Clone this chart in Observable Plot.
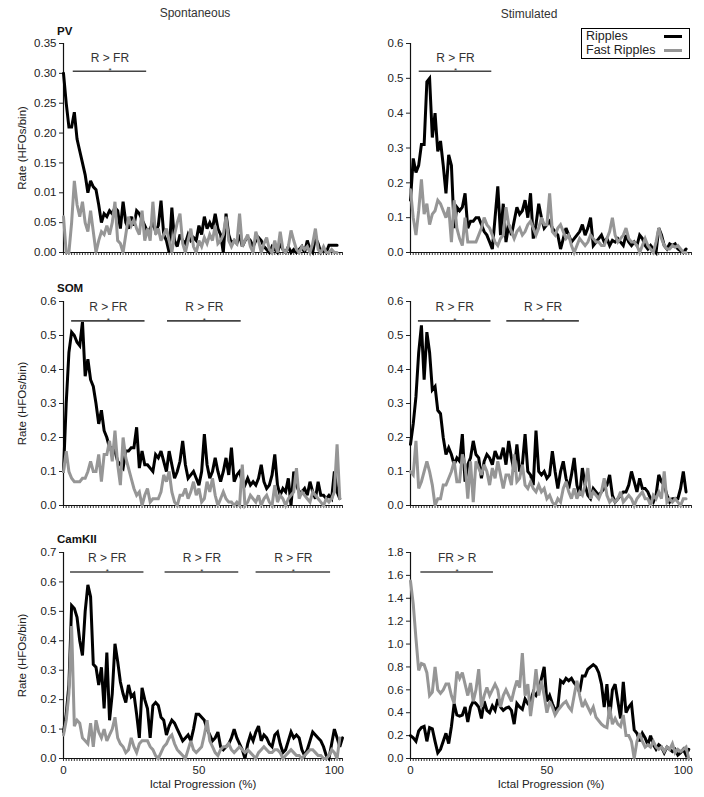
<!DOCTYPE html>
<html><head><meta charset="utf-8">
<script src="https://cdn.jsdelivr.net/npm/d3@7"></script>
<script src="https://cdn.jsdelivr.net/npm/@observablehq/plot@0.6"></script>
<style>
body{margin:0;background:#fff;font-family:"Liberation Sans",Arial,sans-serif;}
#wrap{position:relative;width:704px;height:797px;overflow:hidden;}
.abs{position:absolute;}
.ttl{font-size:12px;color:#333;transform:translate(-50%,-50%);white-space:nowrap;}
.plab{font-size:11.5px;font-weight:bold;color:#111;transform:translateY(-50%);}
</style></head>
<body><div id="wrap"></div>
<script>
// ---- data (x = ictal progression %, one value per 1% bin) ----
const columns = ["Spontaneous", "Stimulated"];
const rowsLabels = ["PV", "SOM", "CamKII"];
const legendLabels = ["Ripples", "Fast Ripples"];

const pvSpontR = [0.30,0.25,0.21,0.21,0.235,0.19,0.17,0.15,0.13,0.10,
0.12,0.11,0.105,0.08,0.05,0.065,0.06,0.07,0.065,0.075,
0.07,0.04,0.085,0.05,0.04,0.06,0.045,0.07,0.065,0.055,
0.045,0.035,0.04,0.05,0.035,0.045,0.087,0.03,0.02,0.0,
0.075,0.02,0.01,0.03,0.02,0.015,0.03,0.02,0.025,0.02,
0.045,0.03,0.06,0.04,0.05,0.04,0.065,0.04,0.03,0.0,
0.065,0.03,0.015,0.02,0.015,0.03,0.01,0.02,0.025,0.02,
0.01,0.02,0.025,0.02,0.01,0.005,0.0,0.01,0.005,0.0,
0.015,0.005,0.0,0.01,0.0,0.005,0.0,0.005,0.01,0.0,
0.02,0.005,0.0,0.025,0.015,0.0,0.005,0.0,0.012,0.012,0.012,0.012];
const pvSpontFR = [0.06,0.0,0.0,0.05,0.12,0.08,0.06,0.085,0.05,0.035,
0.07,0.035,0.0,0.02,0.035,0.03,0.045,0.03,0.05,0.085,
0.02,0.015,0.0,0.03,0.06,0.045,0.055,0.04,0.03,0.07,
0.02,0.04,0.02,0.085,0.03,0.04,0.02,0.03,0.04,0.02,
0.0,0.03,0.05,0.065,0.015,0.0,0.02,0.04,0.01,0.0,
0.02,0.01,0.025,0.015,0.03,0.02,0.045,0.015,0.02,0.03,
0.06,0.02,0.01,0.02,0.015,0.065,0.01,0.02,0.03,0.01,
0.0,0.035,0.02,0.0,0.015,0.025,0.005,0.0,0.02,0.0,
0.035,0.005,0.0,0.01,0.037,0.02,0.005,0.0,0.01,0.005,
0.01,0.0,0.015,0.04,0.005,0.0,0.01,0.0,0.0,0.005,0.0,0.0];
const pvStimR = [0.15,0.27,0.23,0.25,0.31,0.31,0.49,0.50,0.33,0.40,
0.29,0.32,0.25,0.17,0.28,0.25,0.07,0.13,0.12,0.13,
0.17,0.07,0.09,0.09,0.10,0.10,0.08,0.06,0.05,0.03,
0.01,0.10,0.19,0.05,0.14,0.03,0.08,0.05,0.09,0.13,
0.11,0.12,0.15,0.10,0.17,0.04,0.08,0.14,0.10,0.07,
0.08,0.09,0.07,0.06,0.05,0.01,0.04,0.07,0.05,0.03,
0.04,0.05,0.06,0.08,0.05,0.07,0.10,0.02,0.03,0.04,
0.05,0.03,0.04,0.02,0.035,0.03,0.04,0.03,0.02,0.05,
0.03,0.02,0.03,0.02,0.05,0.04,0.02,0.01,0.02,0.01,
0.0,0.07,0.05,0.02,0.01,0.025,0.02,0.025,0.01,0.005,0.0,0.01];
const pvStimFR = [0.18,0.10,0.05,0.12,0.21,0.11,0.14,0.08,0.11,0.12,
0.15,0.14,0.12,0.10,0.13,0.03,0.15,0.07,0.04,0.02,
0.10,0.03,0.03,0.03,0.03,0.05,0.07,0.10,0.08,0.07,
0.05,0.03,0.02,0.04,0.05,0.13,0.08,0.06,0.04,0.06,
0.07,0.05,0.06,0.08,0.09,0.07,0.05,0.07,0.10,0.08,
0.08,0.17,0.06,0.05,0.07,0.08,0.06,0.04,0.05,0.02,
0.0,0.02,0.04,0.03,0.02,0.03,0.05,0.04,0.03,0.03,
0.02,0.02,0.04,0.06,0.10,0.05,0.03,0.04,0.05,0.07,
0.04,0.03,0.03,0.02,0.0,0.02,0.04,0.02,0.01,0.0,
0.03,0.07,0.04,0.02,0.01,0.01,0.02,0.015,0.02,0.01,0.0,0.0];
const somSpontR = [0.10,0.30,0.45,0.51,0.50,0.48,0.47,0.54,0.38,0.43,
0.37,0.35,0.30,0.24,0.28,0.22,0.20,0.17,0.17,0.16,
0.13,0.12,0.11,0.16,0.16,0.17,0.17,0.23,0.11,0.16,
0.12,0.12,0.11,0.10,0.15,0.14,0.16,0.13,0.10,0.16,
0.12,0.08,0.10,0.13,0.19,0.12,0.08,0.09,0.10,0.08,
0.06,0.10,0.21,0.12,0.08,0.10,0.14,0.10,0.07,0.10,
0.14,0.09,0.17,0.07,0.09,0.10,0.07,0.06,0.08,0.06,
0.07,0.06,0.08,0.12,0.07,0.05,0.06,0.09,0.15,0.06,
0.03,0.05,0.04,0.08,0.0,0.10,0.06,0.04,0.04,0.05,
0.03,0.07,0.04,0.02,0.07,0.03,0.03,0.02,0.03,0.02,0.10,0.04,0.02];
const somSpontFR = [0.10,0.16,0.10,0.08,0.07,0.07,0.07,0.08,0.08,0.10,
0.13,0.10,0.10,0.15,0.07,0.15,0.15,0.19,0.13,0.22,
0.12,0.06,0.20,0.14,0.11,0.08,0.05,0.03,0.04,0.0,
0.03,0.05,0.01,0.02,0.02,0.02,0.04,0.09,0.07,0.10,
0.04,0.01,0.0,0.03,0.03,0.05,0.02,0.04,0.07,0.03,
0.05,0.01,0.02,0.07,0.04,0.08,0.03,0.0,0.02,0.04,
0.02,0.01,0.01,0.0,0.01,0.0,0.12,0.0,0.01,0.03,
0.02,0.01,0.03,0.0,0.02,0.03,0.01,0.0,0.06,0.01,
0.03,0.02,0.0,0.02,0.03,0.04,0.11,0.02,0.04,0.03,
0.02,0.01,0.04,0.03,0.02,0.01,0.0,0.02,0.01,0.02,0.04,0.18,0.02];
const somStimR = [0.18,0.24,0.32,0.45,0.53,0.37,0.51,0.45,0.34,0.35,
0.28,0.27,0.20,0.15,0.17,0.15,0.12,0.14,0.13,0.21,
0.07,0.12,0.14,0.19,0.15,0.14,0.08,0.13,0.15,0.14,
0.12,0.16,0.14,0.14,0.17,0.12,0.19,0.14,0.10,0.18,
0.10,0.12,0.21,0.10,0.09,0.06,0.22,0.10,0.09,0.10,
0.08,0.09,0.16,0.10,0.05,0.10,0.13,0.08,0.05,0.09,
0.14,0.06,0.03,0.11,0.06,0.03,0.02,0.05,0.04,0.03,
0.04,0.05,0.06,0.09,0.03,0.01,0.02,0.03,0.04,0.04,
0.06,0.10,0.07,0.04,0.08,0.05,0.05,0.04,0.02,0.01,
0.03,0.09,0.07,0.06,0.03,0.01,0.02,0.02,0.02,0.05,0.10,0.04];
const somStimFR = [0.10,0.09,0.19,0.05,0.07,0.10,0.13,0.10,0.06,0.0,
0.02,0.02,0.06,0.06,0.08,0.10,0.13,0.07,0.07,0.15,
0.12,0.02,0.13,0.01,0.13,0.11,0.09,0.12,0.10,0.06,
0.11,0.08,0.13,0.09,0.05,0.09,0.09,0.06,0.15,0.07,
0.08,0.12,0.06,0.05,0.07,0.05,0.04,0.06,0.04,0.05,
0.02,0.03,0.01,0.0,0.02,0.01,0.05,0.07,0.04,0.02,
0.05,0.02,0.04,0.03,0.06,0.11,0.02,0.04,0.03,0.02,
0.04,0.08,0.03,0.01,0.02,0.01,0.02,0.04,0.01,0.02,
0.03,0.02,0.0,0.02,0.03,0.04,0.02,0.02,0.0,0.03,
0.02,0.04,0.02,0.10,0.01,0.02,0.01,0.02,0.01,0.0,0.02,0.02];
const camSpontR = [0.09,0.15,0.25,0.52,0.51,0.48,0.40,0.35,0.50,0.59,
0.55,0.32,0.31,0.25,0.31,0.17,0.36,0.13,0.22,0.39,
0.33,0.26,0.22,0.19,0.25,0.21,0.22,0.15,0.07,0.24,
0.20,0.17,0.07,0.18,0.19,0.18,0.14,0.13,0.08,0.11,
0.13,0.12,0.10,0.08,0.06,0.07,0.08,0.06,0.10,0.15,
0.15,0.14,0.13,0.10,0.08,0.06,0.07,0.09,0.04,0.03,
0.04,0.05,0.07,0.10,0.07,0.05,0.03,0.0,0.05,0.08,
0.06,0.09,0.11,0.06,0.08,0.07,0.05,0.04,0.08,0.09,
0.05,0.02,0.03,0.06,0.09,0.07,0.08,0.07,0.03,0.01,
0.03,0.06,0.09,0.08,0.07,0.06,0.04,0.01,0.0,0.05,0.10,0.07,0.04,0.07];
const camSpontFR = [0.08,0.13,0.22,0.45,0.11,0.13,0.12,0.07,0.06,0.05,
0.12,0.04,0.13,0.09,0.07,0.10,0.06,0.08,0.10,0.14,
0.07,0.05,0.04,0.02,0.03,0.07,0.04,0.02,0.05,0.06,
0.06,0.06,0.04,0.03,0.01,0.0,0.02,0.04,0.05,0.07,
0.08,0.05,0.03,0.02,0.01,0.0,0.03,0.06,0.03,0.02,
0.03,0.04,0.08,0.13,0.06,0.04,0.02,0.01,0.03,0.04,
0.04,0.05,0.03,0.02,0.03,0.04,0.03,0.02,0.03,0.02,
0.01,0.0,0.02,0.03,0.04,0.03,0.02,0.02,0.03,0.03,
0.02,0.0,0.01,0.02,0.03,0.02,0.01,0.01,0.0,0.01,
0.02,0.03,0.03,0.02,0.01,0.01,0.0,0.0,0.01,0.03,0.02,0.0,0.07];
const camStimR = [0.20,0.18,0.15,0.24,0.27,0.28,0.15,0.27,0.26,0.15,
0.05,0.08,0.15,0.22,0.13,0.28,0.48,0.38,0.37,0.38,
0.45,0.32,0.45,0.50,0.48,0.45,0.35,0.50,0.42,0.40,
0.46,0.42,0.52,0.45,0.42,0.44,0.45,0.42,0.30,0.48,
0.45,0.43,0.52,0.48,0.50,0.58,0.55,0.60,0.70,0.80,
0.50,0.55,0.48,0.42,0.45,0.68,0.66,0.70,0.68,0.70,
0.66,0.63,0.58,0.72,0.72,0.78,0.80,0.82,0.80,0.75,
0.65,0.45,0.65,0.35,0.60,0.65,0.50,0.35,0.67,0.40,
0.45,0.48,0.25,0.22,0.15,0.22,0.18,0.12,0.20,0.12,
0.08,0.12,0.10,0.05,0.10,0.08,0.06,0.08,0.03,0.05,0.08,0.03,0.08];
const camStimFR = [1.55,1.35,1.05,0.77,0.83,0.82,0.75,0.55,0.58,0.80,
0.60,0.57,0.60,0.65,0.65,0.55,0.48,0.76,0.70,0.75,
0.65,0.55,0.66,0.50,0.60,0.78,0.45,0.55,0.62,0.55,
0.60,0.65,0.60,0.45,0.55,0.60,0.55,0.50,0.60,0.68,
0.62,0.92,0.55,0.65,0.37,0.55,0.78,0.55,0.68,0.55,
0.40,0.50,0.45,0.38,0.42,0.45,0.48,0.50,0.45,0.42,
0.55,0.68,0.55,0.45,0.50,0.45,0.40,0.45,0.36,0.33,
0.30,0.28,0.27,0.45,0.30,0.35,0.30,0.28,0.38,0.20,
0.20,0.15,0.0,0.15,0.22,0.15,0.10,0.12,0.10,0.15,
0.10,0.08,0.10,0.06,0.10,0.08,0.13,0.05,0.08,0.06,0.08,0.10,0.0];

// y-axis ticks and their printed labels
const pvSpontTicks = [0,0.05,0.10,0.15,0.20,0.25,0.30,0.35];
const pvSpontTickLabels = ["0.00","0.05","0.01","0.15","0.20","0.25","0.30","0.35"];
const ticks06 = [0,0.1,0.2,0.3,0.4,0.5,0.6];
const ticks07 = [0,0.1,0.2,0.3,0.4,0.5,0.6,0.7];
const ticks18 = [0,0.2,0.4,0.6,0.8,1.0,1.2,1.4,1.6,1.8];
const xTickLabels = [0, 50, 100];

// significance bars: [start %, end %, label]
const sigPVSpont = [[3.6, 30.7, "R > FR"]];
const sigPVStim = [[3.2, 29.8, "R > FR"]];
const sigSOMSpont = [[3.0, 30.1, "R > FR"], [38.4, 65.6, "R > FR"]];
const sigSOMStim = [[2.9, 29.5, "R > FR"], [35.3, 61.9, "R > FR"]];
const sigCamSpont = [[2.6, 29.7, "R > FR"], [37.5, 64.7, "R > FR"], [71.1, 98.6, "R > FR"]];
const sigCamStim = [[3.8, 30.4, "FR > R"]];

// ---- layout ----
const wrap = document.getElementById("wrap");
const rowsGeom = [
  {top: 0, height: 262, mt: 43, mb: 10, sigFrac: 0.867},
  {top: 262, height: 258, mt: 39, mb: 15, sigFrac: 0.905},
  {top: 520, height: 277, mt: 32, mb: 39, sigFrac: 0.905}
];
const colsGeom = [
  {left: 0, width: 352, ml: 63, mr: 10},
  {left: 352, width: 352, ml: 58, mr: 13}
];
const panels = [
  {r:0,c:0,R:pvSpontR,FR:pvSpontFR,ymax:0.35,ticks:pvSpontTicks,labels:pvSpontTickLabels,sig:sigPVSpont},
  {r:0,c:1,R:pvStimR,FR:pvStimFR,ymax:0.6,ticks:ticks06,fmt:".1f",sig:sigPVStim},
  {r:1,c:0,R:somSpontR,FR:somSpontFR,ymax:0.6,ticks:ticks06,fmt:".1f",sig:sigSOMSpont},
  {r:1,c:1,R:somStimR,FR:somStimFR,ymax:0.6,ticks:ticks06,fmt:".1f",sig:sigSOMStim},
  {r:2,c:0,R:camSpontR,FR:camSpontFR,ymax:0.7,ticks:ticks07,fmt:".1f",sig:sigCamSpont},
  {r:2,c:1,R:camStimR,FR:camStimFR,ymax:1.8,ticks:ticks18,fmt:".1f",sig:sigCamStim}
];
const GRAY = "#969696";
const xMinor = d3.range(0, 104, 1);

for (const p of panels) {
  const rg = rowsGeom[p.r], cg = colsGeom[p.c];
  const ymax = p.ymax;
  const sigY = rg.sigFrac * ymax;
  const tf = p.labels ? (d => p.labels[p.ticks.indexOf(d)]) : d3.format(p.fmt);
  const sigData = p.sig.map(([a, b, l]) => ({a, b, l, m: (a + b) / 2}));
  const marks = [
    Plot.axisY({ticks: p.ticks, tickFormat: tf, tickSize: 4, tickPadding: 3,
      label: p.c === 0 ? "Rate (HFOs/bin)" : null, labelAnchor: "center", labelArrow: "none", labelOffset: 46,
      fontSize: 11.5, color: "#222"}),
    Plot.axisX({ticks: xMinor, tickSize: 3, tickFormat: () => "", label: null, strokeWidth: 0.8}),
    Plot.ruleX([0], {stroke: "#111", strokeWidth: 1.2}),
    Plot.ruleY([0], {stroke: "#111", strokeWidth: 1.2}),
    Plot.lineY(p.R, {stroke: "#000", strokeWidth: 3, strokeLinejoin: "miter", strokeMiterlimit: 3}),
    Plot.lineY(p.FR, {stroke: GRAY, strokeWidth: 3, strokeLinejoin: "miter", strokeMiterlimit: 3}),
    Plot.ruleY(sigData, {x1: "a", x2: "b", y: () => sigY, stroke: "#444", strokeWidth: 1.6}),
    Plot.text(sigData, {x: "m", y: () => sigY, text: "l", dy: -13.5, fontSize: 12, fill: "#333"}),
    Plot.text(sigData, {x: "m", y: () => sigY, text: () => "*", dy: -0.5, fontSize: 8, fill: "#333"})
  ];
  if (p.r === 2) {
    marks.push(Plot.axisX({ticks: xTickLabels, tickSize: 0, tickPadding: 7, tickFormat: d3.format("d"),
      label: "Ictal Progression (%)", labelAnchor: "center", labelArrow: "none", labelOffset: 29,
      fontSize: 11.5, color: "#222"}));
  }
  const svg = Plot.plot({
    width: cg.width, height: rg.height,
    marginLeft: cg.ml, marginRight: cg.mr, marginTop: rg.mt, marginBottom: rg.mb,
    x: {domain: [0, 103]},
    y: {domain: [0, ymax]},
    style: {fontFamily: "'Liberation Sans', Arial, sans-serif", fontSize: "11.5px", background: "transparent", overflow: "visible"},
    marks
  });
  const div = document.createElement("div");
  div.className = "abs";
  div.style.left = cg.left + "px"; div.style.top = rg.top + "px";
  div.appendChild(svg);
  wrap.appendChild(div);
}

// column titles
[[195, 13], [529, 14]].forEach(([x, y], i) => {
  const d = document.createElement("div");
  d.className = "abs ttl"; d.style.left = x + "px"; d.style.top = y + "px";
  d.textContent = columns[i]; wrap.appendChild(d);
});
// row labels
[31, 288, 539].forEach((y, i) => {
  const d = document.createElement("div");
  d.className = "abs plab"; d.style.left = "57px"; d.style.top = y + "px";
  d.textContent = rowsLabels[i]; wrap.appendChild(d);
});
// legend
const lg = document.createElement("div");
lg.className = "abs";
lg.style.cssText = "left:581px;top:28px;width:107px;height:29px;border:1px solid #000;background:#fff;font-size:12.5px;color:#222;";
wrap.appendChild(lg);
[["#000", 7], [GRAY, 21]].forEach(([c, y], i) => {
  const t = document.createElement("div");
  t.className = "abs"; t.style.cssText = `left:4px;top:${y}px;transform:translateY(-50%);white-space:nowrap;line-height:1;`;
  t.textContent = legendLabels[i]; lg.appendChild(t);
  const l = document.createElement("div");
  l.className = "abs"; l.style.cssText = `left:82px;top:${y - 1.5}px;width:18px;height:3px;background:${c};`;
  lg.appendChild(l);
});
</script></body></html>
